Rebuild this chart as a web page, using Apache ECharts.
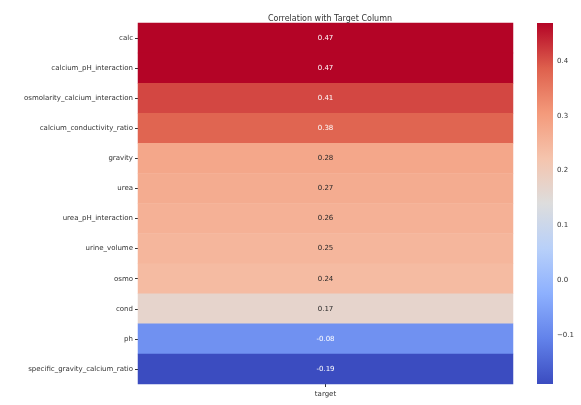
<!DOCTYPE html>
<html>
<head>
<meta charset="utf-8">
<script src="https://cdn.jsdelivr.net/npm/echarts@6/dist/echarts.min.js"></script>
<style>
  html, body { margin: 0; padding: 0; background: #ffffff; }
  #chart { width: 581px; height: 405px; }
</style>
</head>
<body>
<div id="chart"></div>
<script>
// Features ranked by their correlation with the target column
const features = [
  'calc', 'calcium_pH_interaction', 'osmolarity_calcium_interaction',
  'calcium_conductivity_ratio', 'gravity', 'urea', 'urea_pH_interaction',
  'urine_volume', 'osmo', 'cond', 'ph', 'specific_gravity_calcium_ratio'
];
const columns = ['target'];
const correlations = [0.47, 0.47, 0.41, 0.38, 0.28, 0.27, 0.26, 0.25, 0.24, 0.17, -0.08, -0.19];
const colorbarTicks = [-0.1, 0.0, 0.1, 0.2, 0.3, 0.4];

// matplotlib "coolwarm" colormap stops
const coolwarm = ['#3b4cc0', '#6282ea', '#8db0fe', '#b8d0f9', '#dddddd', '#f5c4ad', '#f49a7b', '#de604d', '#b40426'];

const vmin = Math.min(...correlations);
const vmax = Math.max(...correlations);

function hexToRgb(h) {
  return [parseInt(h.slice(1, 3), 16), parseInt(h.slice(3, 5), 16), parseInt(h.slice(5, 7), 16)];
}
function colorAt(v) {
  const t = Math.max(0, Math.min(1, (v - vmin) / (vmax - vmin))) * (coolwarm.length - 1);
  const i = Math.min(Math.floor(t), coolwarm.length - 2);
  const f = t - i;
  const a = hexToRgb(coolwarm[i]), b = hexToRgb(coolwarm[i + 1]);
  return a.map((c, k) => c + (b[k] - c) * f);
}
// annotation text colour follows the luminance of the cell behind it
function textColor(v) {
  const [r, g, b] = colorAt(v).map(c => {
    c /= 255;
    return c <= 0.03928 ? c / 12.92 : Math.pow((c + 0.055) / 1.055, 2.4);
  });
  const lum = 0.2126 * r + 0.7152 * g + 0.0722 * b;
  return lum > 0.408 ? '#262626' : '#ffffff';
}

const cells = correlations.map((v, i) => ({
  value: [0, i, v],
  label: { color: textColor(v) }
}));

const font = 'DejaVu Sans';
const chart = echarts.init(document.getElementById('chart'), null, { renderer: 'canvas' });

chart.setOption({
  animation: false,
  backgroundColor: '#ffffff',
  textStyle: { fontFamily: font },
  title: {
    text: 'Correlation with Target Column',
    left: 325,
    top: 10,
    textAlign: 'center',
    textStyle: { fontFamily: font, fontSize: 8, fontWeight: 'normal', color: '#333333' }
  },
  grid: [
    { left: 138, right: 68, top: 23, bottom: 21 },
    { left: 537, width: 16, top: 23, height: 361 }
  ],
  xAxis: [
    {
      gridIndex: 0,
      type: 'category',
      data: columns,
      axisLine: { show: false },
      axisTick: { show: true, length: 3, alignWithLabel: true, lineStyle: { color: '#333333' } },
      axisLabel: { fontFamily: font, fontSize: 7, color: '#333333', margin: 7 },
      splitLine: { show: false }
    },
    {
      gridIndex: 1,
      type: 'value',
      min: 0,
      max: 1,
      show: false
    }
  ],
  yAxis: [
    {
      gridIndex: 0,
      type: 'category',
      data: features,
      inverse: true,
      axisLine: { show: false },
      axisTick: { show: true, length: 3, alignWithLabel: true, lineStyle: { color: '#333333' } },
      axisLabel: { fontFamily: font, fontSize: 7, color: '#333333', margin: 5 },
      splitLine: { show: false }
    },
    {
      gridIndex: 1,
      type: 'value',
      position: 'right',
      min: vmin,
      max: vmax,
      axisLine: { show: false },
      axisTick: { show: true, length: 3, customValues: colorbarTicks, lineStyle: { color: '#333333' } },
      axisLabel: {
        fontFamily: font, fontSize: 7, color: '#333333', margin: 4,
        customValues: colorbarTicks,
        formatter: v => (v < 0 ? '\u2212' : '') + Math.abs(v).toFixed(1)
      },
      splitLine: { show: false }
    }
  ],
  visualMap: {
    type: 'continuous',
    show: false,
    seriesIndex: 0,
    min: vmin,
    max: vmax,
    dimension: 2,
    inRange: { color: coolwarm }
  },
  series: [
    {
      type: 'heatmap',
      xAxisIndex: 0,
      yAxisIndex: 0,
      data: cells,
      label: {
        show: true,
        fontFamily: font,
        fontSize: 7,
        formatter: p => p.value[2].toFixed(2)
      },
      itemStyle: { borderWidth: 0 },
      emphasis: { disabled: true }
    }
  ]
});

// Colour bar: a flat gradient rectangle spanning the colour-bar grid
const topLeft = chart.convertToPixel({ xAxisIndex: 1, yAxisIndex: 1 }, [0, vmax]);
const bottomRight = chart.convertToPixel({ xAxisIndex: 1, yAxisIndex: 1 }, [1, vmin]);
chart.setOption({
  graphic: [{
    type: 'rect',
    silent: true,
    z: 10,
    shape: {
      x: topLeft[0],
      y: topLeft[1],
      width: bottomRight[0] - topLeft[0],
      height: bottomRight[1] - topLeft[1]
    },
    style: {
      fill: new echarts.graphic.LinearGradient(0, 1, 0, 0,
        coolwarm.map((c, i) => ({ offset: i / (coolwarm.length - 1), color: c })))
    }
  }]
});
</script>
</body>
</html>
